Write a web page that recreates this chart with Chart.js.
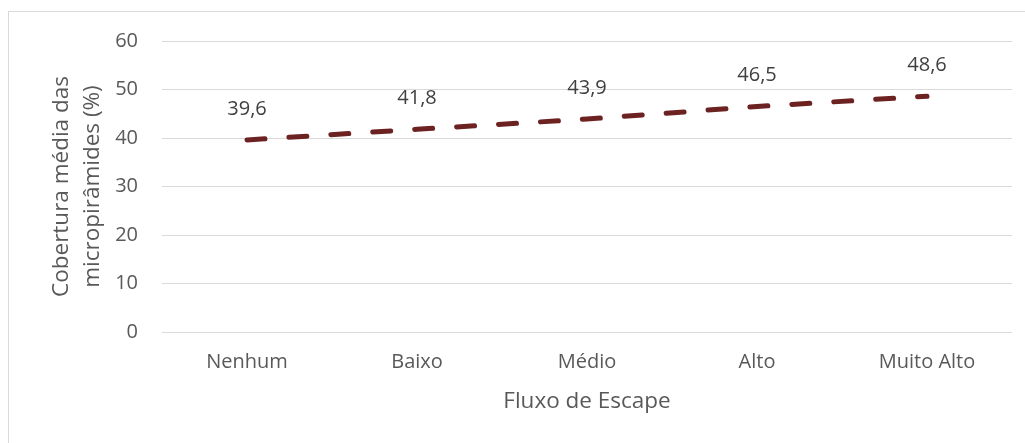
<!DOCTYPE html>
<html lang="pt">
<head>
<meta charset="utf-8">
<title>Cobertura média das micropirâmides por fluxo de escape</title>
<script src="https://cdn.jsdelivr.net/npm/chart.js@4/dist/chart.umd.min.js"></script>
<style>
  html, body { margin: 0; padding: 0; background: #ffffff; overflow: hidden; }
  #frame {
    position: absolute; left: 8px; top: 11px;
    width: 1100px; height: 520px;
    border: 1px solid #d9d9d9; box-sizing: border-box;
  }
  #wrap { position: absolute; left: 0; top: 0; width: 1025px; height: 443px; }
</style>
</head>
<body>
<div id="frame"></div>
<div id="wrap"><canvas id="chart" width="1025" height="443"></canvas></div>
<script>
// Categories of escape flow and mean coverage (%) for each
const categories = ['Nenhum', 'Baixo', 'Médio', 'Alto', 'Muito Alto'];
const coverage = [39.6, 41.8, 43.9, 46.5, 48.6];
const yTicks = [0, 10, 20, 30, 40, 50, 60];
const xTitle = 'Fluxo de Escape';
const yTitle = ['Cobertura média das', 'micropirâmides (%)'];

const FONT = '"Open Sans", "DejaVu Sans", sans-serif';
const TEXT = '#595959';
const LABEL = '#404040';
const GRID = '#d9d9d9';
const LINE = '#6d2222';

// Value labels above each point, written with a comma decimal separator
const valueLabels = {
  id: 'valueLabels',
  afterDatasetsDraw(chart) {
    const { ctx } = chart;
    const meta = chart.getDatasetMeta(0);
    ctx.save();
    ctx.font = '20px ' + FONT;
    ctx.fillStyle = LABEL;
    ctx.textAlign = 'center';
    ctx.textBaseline = 'middle';
    meta.data.forEach((pt, i) => {
      const txt = coverage[i].toFixed(1).replace('.', ',');
      ctx.fillText(txt, pt.x, pt.y - 31);
    });
    ctx.restore();
  }
};

// Axis titles
const axisTitles = {
  id: 'axisTitles',
  afterDraw(chart) {
    const { ctx, chartArea } = chart;
    ctx.save();
    ctx.fillStyle = TEXT;
    ctx.textAlign = 'center';
    ctx.textBaseline = 'middle';
    ctx.font = '22.5px ' + FONT;
    ctx.fillText(xTitle, (chartArea.left + chartArea.right) / 2, 402);
    const cy = (chartArea.top + chartArea.bottom) / 2;
    ctx.translate(0, cy);
    ctx.rotate(-Math.PI / 2);
    ctx.fillText(yTitle[0], 0, 62);
    ctx.fillText(yTitle[1], 0, 93);
    ctx.restore();
  }
};

new Chart(document.getElementById('chart'), {
  type: 'line',
  data: {
    labels: categories,
    datasets: [{
      data: coverage,
      borderColor: LINE,
      borderWidth: 5,
      borderDash: [18, 24],
      borderCapStyle: 'round',
      pointRadius: 0,
      pointHoverRadius: 0,
      tension: 0,
      fill: false
    }]
  },
  options: {
    responsive: false,
    animation: false,
    events: [],
    layout: { padding: { left: 0, right: 13, top: 41, bottom: 0 } },
    plugins: {
      legend: { display: false },
      tooltip: { enabled: false },
      title: { display: false }
    },
    scales: {
      x: {
        offset: true,
        grid: { display: false, drawTicks: false },
        border: { display: false },
        ticks: { color: TEXT, font: { family: FONT, size: 20 }, padding: 18, maxRotation: 0 },
        afterFit(scale) { scale.height = 111; }
      },
      y: {
        min: 0,
        max: 60,
        afterBuildTicks(scale) { scale.ticks = yTicks.map(v => ({ value: v })); },
        grid: { color: GRID, lineWidth: 1, drawTicks: false },
        border: { display: false },
        ticks: { color: TEXT, font: { family: FONT, size: 20 }, padding: 24 },
        afterFit(scale) { scale.width = 162; }
      }
    }
  },
  plugins: [valueLabels, axisTitles]
});
</script>
</body>
</html>
